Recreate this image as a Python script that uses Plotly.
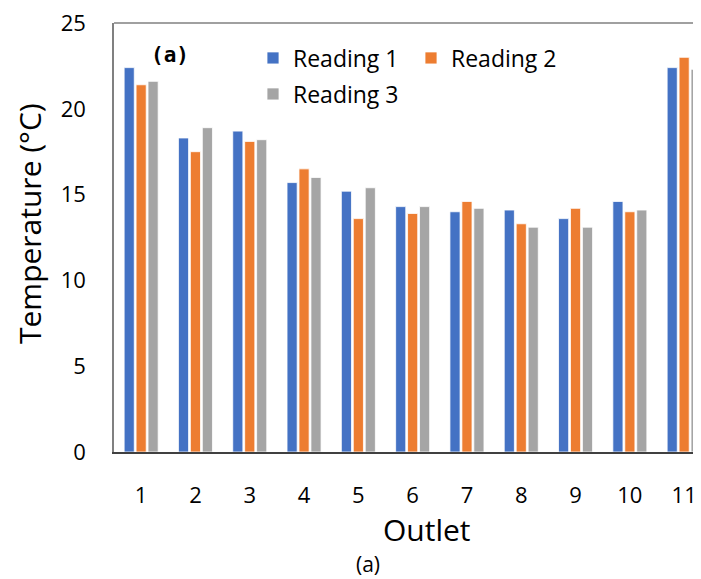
import plotly.graph_objects as go

outlets = ["1", "2", "3", "4", "5", "6", "7", "8", "9", "10", "11"]
reading1 = [22.4, 18.3, 18.7, 15.7, 15.2, 14.3, 14.0, 14.1, 13.6, 14.6, 22.4]
reading2 = [21.4, 17.5, 18.1, 16.5, 13.6, 13.9, 14.6, 13.3, 14.2, 14.0, 23.0]
reading3 = [21.6, 18.9, 18.2, 16.0, 15.4, 14.3, 14.2, 13.1, 13.1, 14.1, 22.3]
series_names = ["Reading 1", "Reading 2", "Reading 3"]
colors = ["#4472C4", "#ED7D31", "#A5A5A5"]
legend_ids = ["legend", "legend", "legend2"]

FONT = "'Open Sans', 'Noto Sans', sans-serif"
xpos = list(range(1, len(outlets) + 1))

# page body has an 8px default margin; compensate so the plot area lands at
# screen x 114..701, y 23..452
OFF = 8
W, H = 701 - OFF, 579 - OFF
L, T, B = 114 - OFF, 23 - OFF, 127
PW, PH = 701 - 114, 452 - 23


def px_x(x):
    return (x - 114) / PW


def px_y(y):
    return (452 - y) / PH


fig = go.Figure()
for name, vals, col, lg in zip(series_names, [reading1, reading2, reading3], colors, legend_ids):
    fig.add_trace(go.Bar(
        x=xpos, y=vals, name=name, legend=lg,
        marker=dict(color=col, line=dict(color="white", width=0.8)),
    ))

legend_common = dict(
    orientation="h", xanchor="left", yanchor="top",
    font=dict(size=23, family=FONT, color="#000000"),
    entrywidth=113, entrywidthmode="pixels", traceorder="normal",
    bgcolor="rgba(0,0,0,0)", itemwidth=30,
)

fig.update_layout(
    width=W, height=H,
    margin=dict(l=L, r=0, t=T, b=B),
    paper_bgcolor="white", plot_bgcolor="white",
    barmode="group", bargap=0.34, bargroupgap=0.15,
    font=dict(family=FONT, color="#000000"),
    showlegend=True,
    legend=dict(x=px_x(253), y=px_y(36.5), **legend_common),
    legend2=dict(x=px_x(253), y=px_y(72.5), **legend_common),
    xaxis=dict(
        range=[0.5, 0.5 + PW / 54.3],
        tickmode="array", tickvals=xpos, ticktext=outlets,
        tickfont=dict(size=22, family=FONT, color="#000000"), ticks="", ticklabelstandoff=23,
        ticklabeloverflow="allow",
        showline=True, linecolor="#404040", linewidth=2, showgrid=False, zeroline=False,
    ),
    yaxis=dict(
        range=[0, 25], tickmode="array", tickvals=[0, 5, 10, 15, 20, 25],
        tickfont=dict(size=22, family=FONT, color="#000000"), ticks="",
        ticklabelstandoff=22, ticklabeloverflow="allow",
        showline=True, linecolor="#808080", linewidth=1.5,
        showgrid=False, zeroline=False,
    ),
    shapes=[dict(type="line", xref="paper", yref="paper", x0=0, x1=1, y0=1, y1=1,
                 line=dict(color="#808080", width=1.5))],
    annotations=[
        dict(text="Temperature (°C)", xref="paper", yref="paper", x=px_x(29),
             y=px_y(224), textangle=-90, showarrow=False, font=dict(size=30, family=FONT),
             xanchor="center", yanchor="middle"),
        dict(text="Outlet", xref="paper", yref="paper", x=px_x(427),
             y=px_y(529), showarrow=False, font=dict(size=30, family=FONT),
             xanchor="center", yanchor="middle"),
        dict(text="(a)", xref="paper", yref="paper", x=px_x(368),
             y=px_y(564), showarrow=False, font=dict(size=21, family=FONT),
             xanchor="center", yanchor="middle"),
        dict(text="<b>(a)</b>", xref="paper", yref="paper", x=px_x(170),
             y=px_y(55), showarrow=False,
             font=dict(size=21, family="'DejaVu Sans Mono', 'Liberation Mono', monospace"),
             xanchor="center", yanchor="middle"),
    ],
)

fig.write_html("out.html")
